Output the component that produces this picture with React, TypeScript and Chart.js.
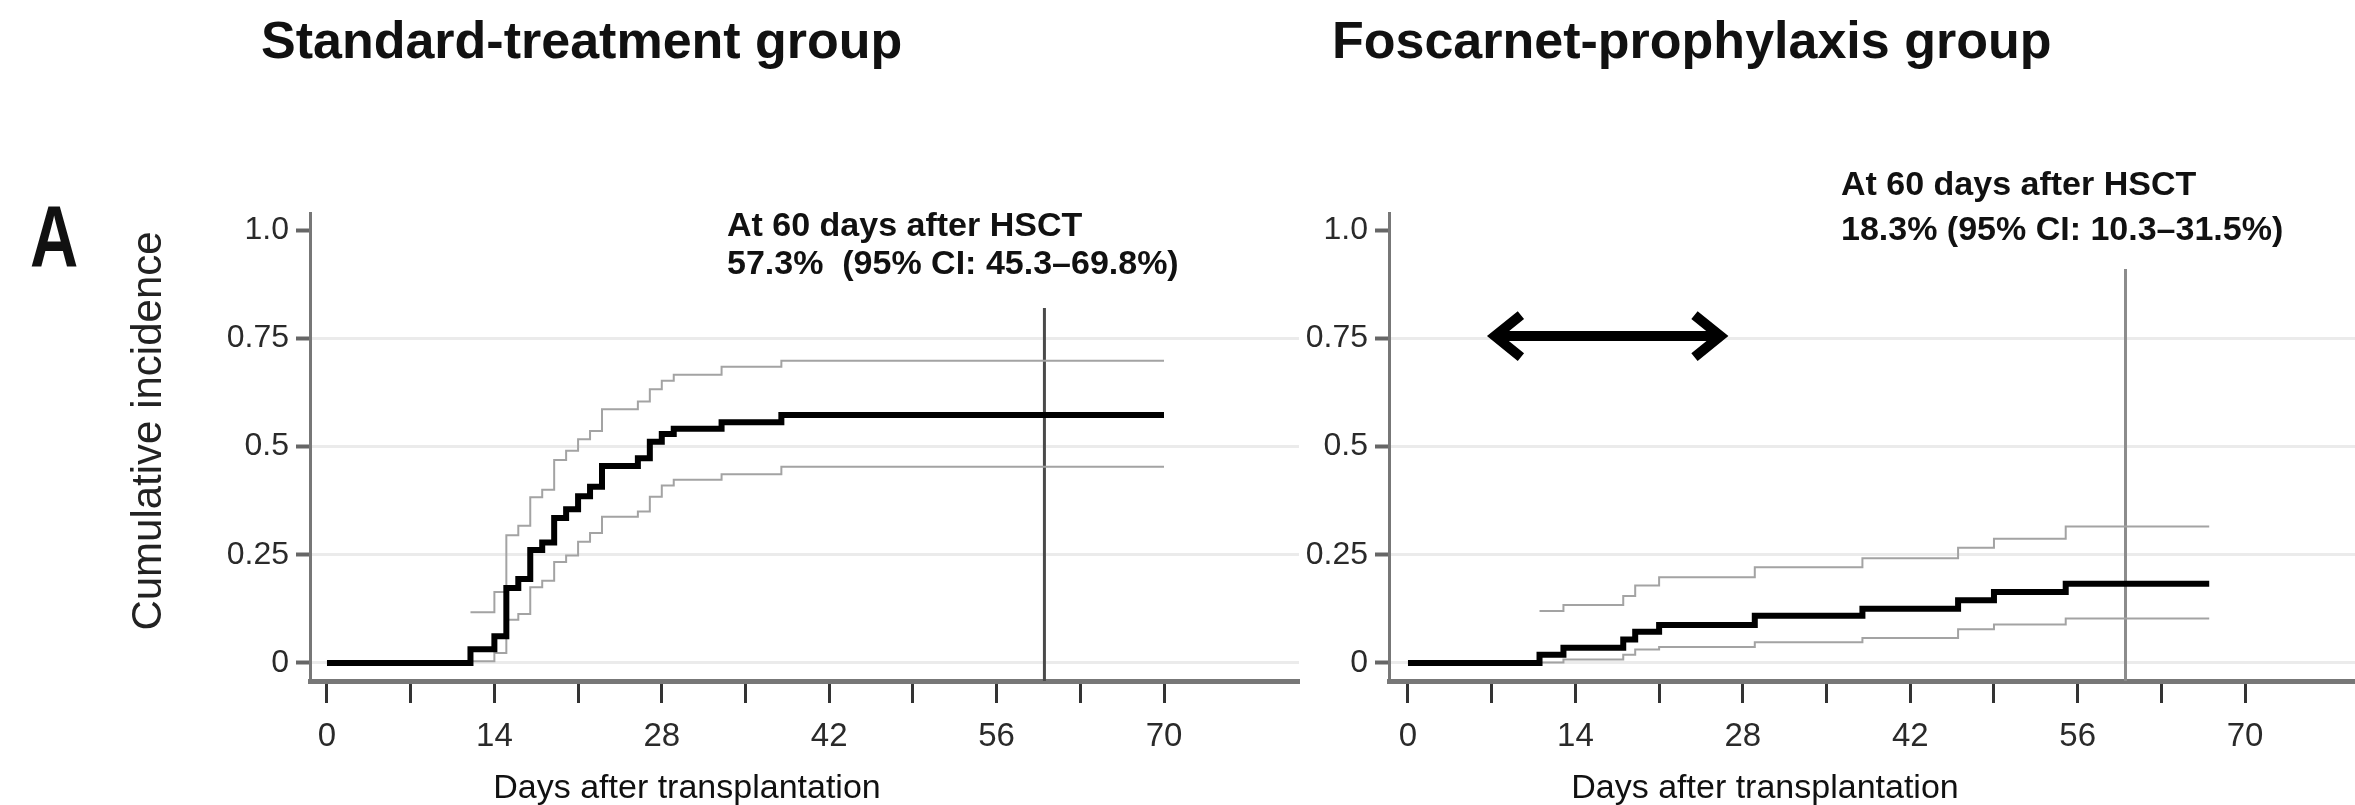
import React, { useEffect, useRef } from 'react';
import { Chart, registerables } from 'chart.js';

Chart.register(...registerables);

const FONT = '"Liberation Sans", Arial, Helvetica, sans-serif';

// ---------- Standard-treatment group ----------
const stdMainDays = [0, 12, 14, 15, 16, 17, 18, 19, 20, 21, 22, 23, 26, 27, 28, 29, 33, 38, 70];
const stdMain = [0, 0.032, 0.062, 0.173, 0.194, 0.261, 0.278, 0.335, 0.355, 0.385, 0.407, 0.455, 0.473, 0.511, 0.529, 0.541, 0.556, 0.573, 0.573];
const stdCiDays = [12, 14, 15, 16, 17, 18, 19, 20, 21, 22, 23, 26, 27, 28, 29, 33, 38, 70];
const stdUpper = [0.117, 0.164, 0.295, 0.317, 0.383, 0.4, 0.469, 0.49, 0.517, 0.536, 0.586, 0.604, 0.632, 0.652, 0.666, 0.684, 0.698, 0.698];
const stdLower = [0.004, 0.023, 0.1, 0.113, 0.175, 0.19, 0.233, 0.248, 0.28, 0.3, 0.338, 0.35, 0.384, 0.41, 0.423, 0.436, 0.453, 0.453];

// ---------- Foscarnet-prophylaxis group ----------
const fosMainDays = [0, 11, 13, 18, 19, 21, 29, 38, 46, 49, 55, 67];
const fosMain = [0, 0.019, 0.035, 0.054, 0.072, 0.088, 0.109, 0.125, 0.145, 0.164, 0.183, 0.183];
const fosCiDays = [11, 13, 18, 19, 21, 29, 38, 46, 49, 55, 67];
const fosUpper = [0.12, 0.134, 0.155, 0.179, 0.198, 0.221, 0.242, 0.266, 0.287, 0.315, 0.315];
const fosLower = [0.001, 0.008, 0.019, 0.031, 0.037, 0.048, 0.058, 0.078, 0.089, 0.103, 0.103];

// ---------- axes / labels ----------
const xTickDays = [0, 7, 14, 21, 28, 35, 42, 49, 56, 63, 70];
const xLabelDays = [0, 14, 28, 42, 56, 70];
const yTickValues = [0, 0.25, 0.5, 0.75, 1.0];
const yTickLabels = ['0', '0.25', '0.5', '0.75', '1.0'];
const landmarkDay = 60;
const arrowDays = [6.6, 26.8];
const arrowLevel = 0.755;

const titles = ['Standard-treatment group', 'Foscarnet-prophylaxis group'];
const panelLetter = 'A';
const yTitle = 'Cumulative incidence';
const xTitle = 'Days after transplantation';
const stdNote = ['At 60 days after HSCT', '57.3%  (95% CI: 45.3\u201369.8%)'];
const fosNote = ['At 60 days after HSCT', '18.3% (95% CI: 10.3\u201331.5%)'];

const Y_MIN = -0.0416;
const Y_MAX = 1.0393;

const toPoints = (days: number[], vals: number[]) => days.map((d, i) => ({ x: d, y: vals[i] }));

type Panel = {
  mainDays: number[]; main: number[]; ciDays: number[]; upper: number[]; lower: number[];
  xMin: number; xMax: number; yAxisWidth: number; padRight: number;
  refTop: number; refColor: string; refWidth: number;
  draw: (chart: any) => void;
};

function makeConfig(p: Panel): any {
  return {
    type: 'line',
    data: {
      datasets: [
        { data: toPoints(p.mainDays, p.main), borderColor: '#000', borderWidth: 6, stepped: 'before', pointRadius: 0, fill: false, borderCapStyle: 'butt', borderJoinStyle: 'miter' },
        { data: toPoints(p.ciDays, p.upper), borderColor: '#a3a3a3', borderWidth: 2, stepped: 'before', pointRadius: 0, fill: false },
        { data: toPoints(p.ciDays, p.lower), borderColor: '#a3a3a3', borderWidth: 2, stepped: 'before', pointRadius: 0, fill: false },
        { data: [{ x: landmarkDay, y: Y_MIN }, { x: landmarkDay, y: p.refTop }], borderColor: p.refColor, borderWidth: p.refWidth, pointRadius: 0, fill: false },
      ],
    },
    options: {
      responsive: false,
      animation: false,
      events: [],
      layout: { padding: { left: 0, top: 213, right: p.padRight, bottom: 0 } },
      plugins: { legend: { display: false }, tooltip: { enabled: false }, title: { display: false } },
      scales: {
        x: {
          type: 'linear', min: p.xMin, max: p.xMax,
          afterBuildTicks: (s: any) => { s.ticks = xTickDays.map((v) => ({ value: v })); },
          afterFit: (s: any) => { s.height = 124; },
          ticks: {
            autoSkip: false, maxRotation: 0, minRotation: 0, padding: 14,
            font: { size: 33, family: FONT }, color: '#2a2a2a',
            callback: (v: number) => (xLabelDays.includes(v) ? String(v) : ''),
          },
          grid: { drawOnChartArea: false, drawTicks: true, tickLength: 22, tickWidth: 3, tickColor: '#333' },
          border: { display: true, color: '#777', width: 5 },
        },
        y: {
          type: 'linear', min: Y_MIN, max: Y_MAX,
          afterBuildTicks: (s: any) => { s.ticks = yTickValues.map((v) => ({ value: v })); },
          afterFit: (s: any) => { s.width = p.yAxisWidth; },
          ticks: {
            padding: 7, font: { size: 32, family: FONT }, color: '#2a2a2a',
            callback: (v: number) => { const i = yTickValues.indexOf(v); return i >= 0 ? yTickLabels[i] : ''; },
          },
          grid: {
            color: (c: any) => (c.tick && c.tick.value === 1 ? 'rgba(0,0,0,0)' : '#ebebeb'),
            lineWidth: 3, drawTicks: true, tickLength: 14, tickWidth: 4, tickColor: '#666',
          },
          border: { display: true, color: '#777', width: 3 },
        },
      },
    },
    plugins: [{ id: 'annot' + p.yAxisWidth, afterDraw: (chart: any) => p.draw(chart) }],
  };
}

function txt(ctx: CanvasRenderingContext2D, s: string, x: number, y: number, font: string, align: CanvasTextAlign = 'left') {
  ctx.save();
  ctx.font = font;
  ctx.fillStyle = '#111';
  ctx.textAlign = align;
  ctx.textBaseline = 'alphabetic';
  ctx.fillText(s, x, y);
  ctx.restore();
}

const leftPanel: Panel = {
  mainDays: stdMainDays, main: stdMain, ciDays: stdCiDays, upper: stdUpper, lower: stdLower,
  xMin: -1.42, xMax: 81.29, yAxisWidth: 310, padRight: 6,
  refTop: 0.82, refColor: '#4a4a4a', refWidth: 3,
  draw: (chart) => {
    const ctx = chart.ctx as CanvasRenderingContext2D;
    ctx.save();
    ctx.translate(30, 266);
    ctx.scale(0.76, 1);
    ctx.font = `bold 88px ${FONT}`;
    ctx.fillStyle = '#111';
    ctx.fillText(panelLetter, 0, 0);
    ctx.restore();
    txt(ctx, titles[0], 261, 58, `bold 52px ${FONT}`);
    ctx.save();
    ctx.translate(161, 431);
    ctx.rotate(-Math.PI / 2);
    ctx.font = `42px ${FONT}`;
    ctx.fillStyle = '#222';
    ctx.textAlign = 'center';
    ctx.fillText(yTitle, 0, 0);
    ctx.restore();
    txt(ctx, xTitle, 687, 798, `34px ${FONT}`, 'center');
    txt(ctx, stdNote[0], 727, 236, `bold 34px ${FONT}`);
    txt(ctx, stdNote[1], 727, 274, `bold 34px ${FONT}`);
  },
};

const rightPanel: Panel = {
  mainDays: fosMainDays, main: fosMain, ciDays: fosCiDays, upper: fosUpper, lower: fosLower,
  xMin: -1.587, xMax: 79.19, yAxisWidth: 84, padRight: 0,
  refTop: 0.91, refColor: '#8c8c8c', refWidth: 3,
  draw: (chart) => {
    const ctx = chart.ctx as CanvasRenderingContext2D;
    txt(ctx, titles[1], 27, 58, `bold 52px ${FONT}`);
    txt(ctx, xTitle, 460, 798, `34px ${FONT}`, 'center');
    txt(ctx, fosNote[0], 536, 195, `bold 34px ${FONT}`);
    txt(ctx, fosNote[1], 536, 240, `bold 34px ${FONT}`);
    const xs = chart.scales.x, ys = chart.scales.y;
    const x1 = xs.getPixelForValue(arrowDays[0]);
    const x2 = xs.getPixelForValue(arrowDays[1]);
    const y = ys.getPixelForValue(arrowLevel);
    ctx.save();
    ctx.strokeStyle = '#000';
    ctx.lineWidth = 10;
    ctx.beginPath();
    ctx.moveTo(x1 + 8, y);
    ctx.lineTo(x2 - 8, y);
    ctx.stroke();
    ctx.lineWidth = 10;
    ctx.lineJoin = 'miter';
    ctx.lineCap = 'butt';
    ctx.beginPath();
    ctx.moveTo(x1 + 34, y - 21);
    ctx.lineTo(x1 + 8, y);
    ctx.lineTo(x1 + 34, y + 21);
    ctx.stroke();
    ctx.beginPath();
    ctx.moveTo(x2 - 34, y - 21);
    ctx.lineTo(x2 - 8, y);
    ctx.lineTo(x2 - 34, y + 21);
    ctx.stroke();
    ctx.restore();
  },
};

export default function App() {
  const leftRef = useRef<HTMLCanvasElement>(null);
  const rightRef = useRef<HTMLCanvasElement>(null);

  useEffect(() => {
    document.body.style.margin = '0';
    document.body.style.background = '#fff';
    Chart.defaults.font.family = FONT;
    const c1 = new Chart(leftRef.current as HTMLCanvasElement, makeConfig(leftPanel));
    const c2 = new Chart(rightRef.current as HTMLCanvasElement, makeConfig(rightPanel));
    return () => { c1.destroy(); c2.destroy(); };
  }, []);

  return (
    <div style={{ position: 'relative', width: 2355, height: 805, background: '#fff', overflow: 'hidden' }}>
      <canvas ref={leftRef} width={1305} height={805} style={{ position: 'absolute', left: 0, top: 0, width: 1305, height: 805 }} />
      <canvas ref={rightRef} width={1050} height={805} style={{ position: 'absolute', left: 1305, top: 0, width: 1050, height: 805 }} />
    </div>
  );
}
